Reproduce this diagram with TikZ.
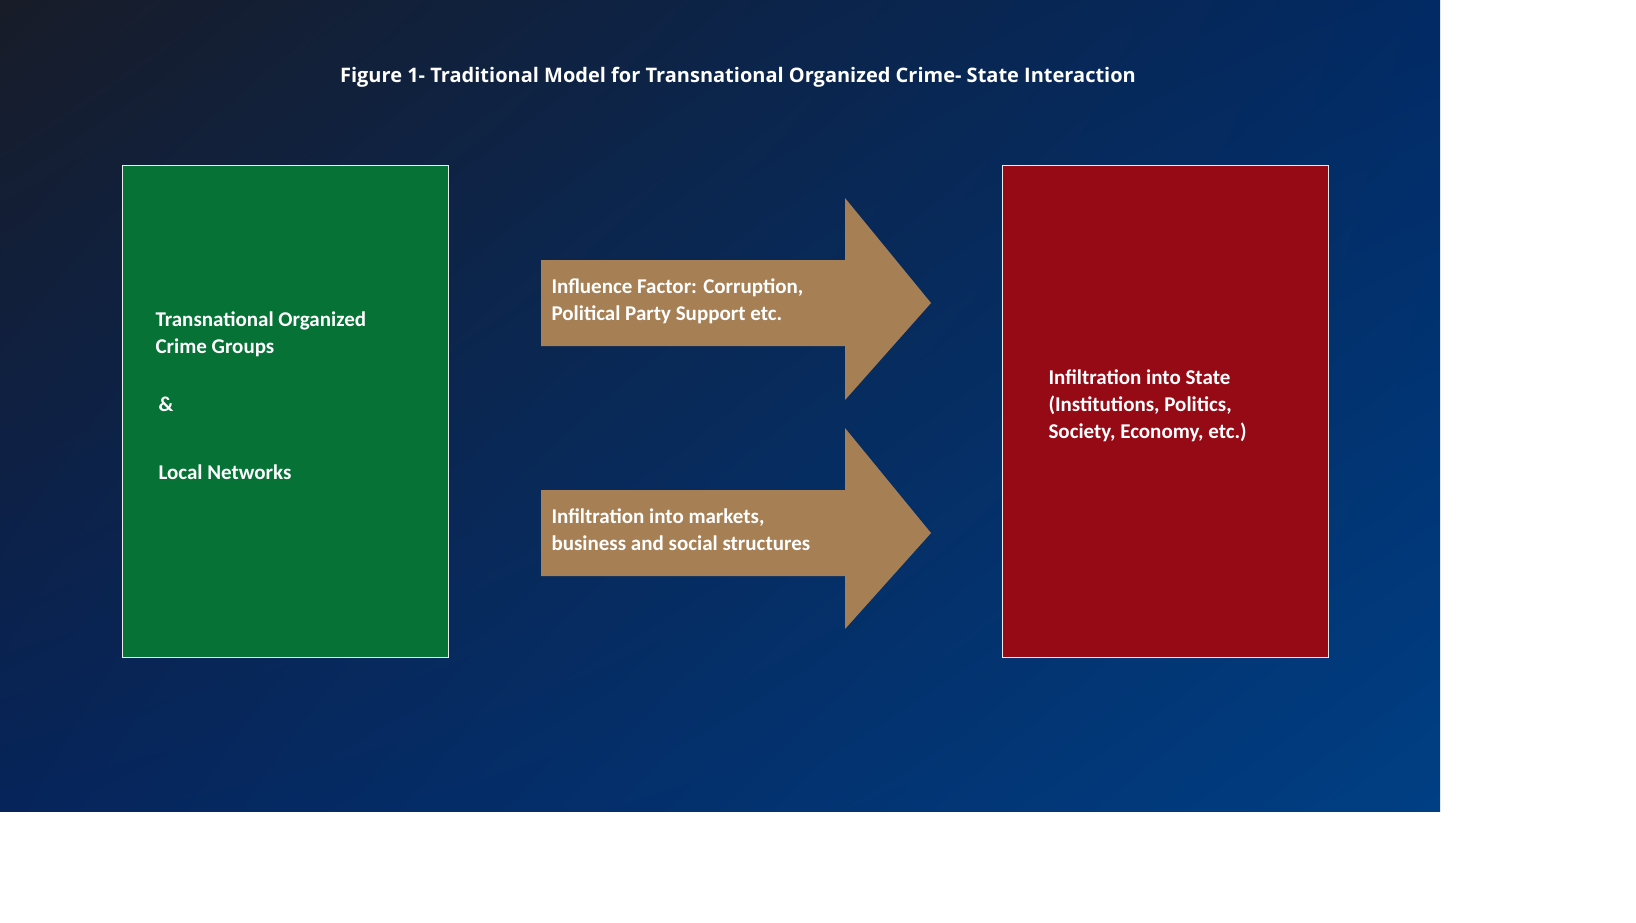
\documentclass[tikz,border=0pt]{standalone}
\usepackage{fontspec}
\usetikzlibrary{shadings}
\setmainfont{Carlito}
\newfontfamily\titlefont{Open Sans}
\definecolor{bgA}{HTML}{181C28}
\definecolor{bgB}{HTML}{06245A}
\definecolor{bgC}{HTML}{022A64}
\definecolor{bgD}{HTML}{003F84}
\definecolor{grn}{HTML}{067236}
\definecolor{rd}{HTML}{960A16}
\definecolor{brn}{HTML}{A77F55}
\begin{document}
\begin{tikzpicture}[x=1pt,y=-1pt,
  box/.style={draw=white!85!gray,line width=0.8pt,minimum width=326pt,minimum height=492pt,inner sep=0pt},
  lbl/.style={text=white,font=\bfseries\fontsize{21}{27}\selectfont,align=left,anchor=west},
  arr/.style={fill=brn}]
\useasboundingbox (0,0) rectangle (1636,922);
\fill[white] (0,0) rectangle (1636,922);
\shade[upper left=bgA,upper right=bgC,lower left=bgB,lower right=bgD] (0,0) rectangle (1440,811);
\node[text=white,font=\titlefont\bfseries\fontsize{20}{24}\selectfont] (title) at (738,77) {Figure 1- Traditional Model for Transnational Organized Crime- State Interaction};
\node[box,fill=grn] (left) at (285,411) {};
\node[box,fill=rd] (right) at (1165,411) {};
\fill[arr] (541,260) -- (845,260) -- (845,198) -- (931,303) -- (845,400) -- (845,346) -- (541,346) -- cycle;
\fill[arr] (541,490) -- (845,490) -- (845,428) -- (931,533) -- (845,629) -- (845,576) -- (541,576) -- cycle;
\node[lbl] (t1) at (152,334) {Transnational Organized\\Crime Groups};
\node[lbl] (amp) at (155,404) {\&};
\node[lbl] (t2) at (155,472) {Local Networks};
\node[lbl] (a1) at (548,301) {Influence Factor: Corruption,\\Political Party Support etc.};
\node[lbl] (a2) at (548,530) {Infiltration into markets,\\business and social structures};
\node[lbl] (r) at (1045,406) {Infiltration into State\\(Institutions, Politics,\\Society, Economy, etc.)};
\end{tikzpicture}
\end{document}
